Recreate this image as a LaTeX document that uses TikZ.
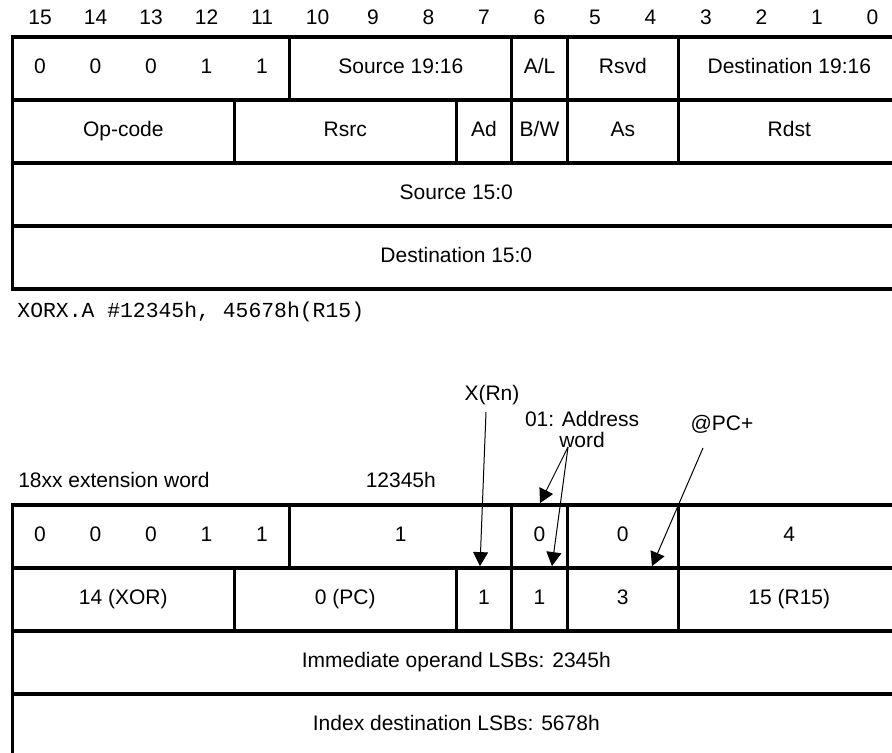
\documentclass[tikz,border=0pt]{standalone}
\usepackage{fontspec}
\setmainfont{Liberation Sans}
\setmonofont{Liberation Mono}
\usetikzlibrary{arrows.meta}

\begin{document}
\begin{tikzpicture}[x=27.75pt, y=31.5pt, >={Triangle[length=7pt, width=7.5pt]},
    font=\fontsize{10.5}{12.6}\selectfont,
    every node/.style={text height=7.6pt, text depth=2.2pt},
    rahmen/.style={line width=1.6pt},
    pfeil/.style={->, line width=0.5pt}]

    \useasboundingbox (-0.2216,0.5873) rectangle (15.8505,-11.365);
    \clip (-0.2216,0.5873) rectangle (15.8505,-11.365);

    % --- OBERES BILD: Format des Erweiterungsworts ---
    \begin{scope}[shift={(0,0)}]
        % Bitnummern
        \foreach \b in {0,...,15}
            \node (bit\b) at ({15.5-\b},0.286) {\b};

        % Rahmen und Zeilen
        \draw[rahmen] (0,0) rectangle (16,-4);
        \draw[rahmen] (0,-1) -- (16,-1) (0,-2) -- (16,-2) (0,-3) -- (16,-3);
        \draw[rahmen] (5,0) -- (5,-1) (9,0) -- (9,-1) (10,0) -- (10,-1) (12,0) -- (12,-1);
        \draw[rahmen] (4,-1) -- (4,-2) (8,-1) -- (8,-2) (9,-1) -- (9,-2) (10,-1) -- (10,-2) (12,-1) -- (12,-2);

        % Erweiterungswort
        \foreach \u/\w [count=\i] in {0.5/0, 1.5/0, 2.5/0, 3.5/1, 4.5/1}
            \node (ext\i) at (\u,-0.5) {\w};
        \node (src) at (7,-0.5) {Source 19:16};
        \node (al) at (9.5,-0.5) {A/L};
        \node (rsvd) at (11,-0.5) {Rsvd};
        \node (dst) at (14,-0.5) {Destination 19:16};

        % Befehlswort
        \node (opc) at (2,-1.5) {Op-code};
        \node (rsrc) at (6,-1.5) {Rsrc};
        \node (ad) at (8.5,-1.5) {Ad};
        \node (bw) at (9.5,-1.5) {B/W};
        \node (as) at (11,-1.5) {As};
        \node (rdst) at (14,-1.5) {Rdst};

        % Operandenwoerter
        \node (srclo) at (8,-2.5) {Source 15:0};
        \node (dstlo) at (8,-3.5) {Destination 15:0};

        \node[anchor=west, inner sep=0pt, font=\fontsize{10.7}{12.6}\ttfamily] (befehl) at (0.085,-4.365) {XORX.A \#12345h, 45678h(R15)};
    \end{scope}

    % --- UNTERES BILD: Beispiel mit Werten ---
    \begin{scope}[shift={(0,-7.4286)}]
        \node[anchor=west, inner sep=0pt] (wort) at (0.1,0.365) {18xx extension word};
        \node (wert) at (7,0.365) {12345h};

        % Rahmen und Zeilen
        \draw[rahmen] (0,0) rectangle (16,-4);
        \draw[rahmen] (0,-1) -- (16,-1) (0,-2) -- (16,-2) (0,-3) -- (16,-3);
        \draw[rahmen] (5,0) -- (5,-1) (9,0) -- (9,-1) (10,0) -- (10,-1) (12,0) -- (12,-1);
        \draw[rahmen] (4,-1) -- (4,-2) (8,-1) -- (8,-2) (9,-1) -- (9,-2) (10,-1) -- (10,-2) (12,-1) -- (12,-2);

        % Erweiterungswort
        \foreach \u/\w [count=\i] in {0.5/0, 1.5/0, 2.5/0, 3.5/1, 4.5/1}
            \node (xext\i) at (\u,-0.5) {\w};
        \node (xsrc) at (7,-0.5) {1};
        \node (xal) at (9.5,-0.5) {0};
        \node (xrsvd) at (11,-0.5) {0};
        \node (xdst) at (14,-0.5) {4};

        % Befehlswort
        \node (xopc) at (2,-1.5) {14 (XOR)};
        \node (xrsrc) at (6,-1.5) {0 (PC)};
        \node (xad) at (8.5,-1.5) {1};
        \node (xbw) at (9.5,-1.5) {1};
        \node (xas) at (11,-1.5) {3};
        \node (xrdst) at (14,-1.5) {15 (R15)};

        % Operandenwoerter
        \node (imm) at (8,-2.5) {Immediate operand LSBs: 2345h};
        \node (idx) at (8,-3.5) {Index destination LSBs: 5678h};

        % Beschriftungen mit Pfeilen
        \node (xrn) at (8.643,1.746) {X(Rn)};
        \node[align=center, text height={}, text depth={}] (addr) at (10.265,1.2) {01: Address\\[-2pt]word};
        \node (pcinc) at (12.787,1.27) {@PC+};

        \coordinate (xrnfuss) at (8.535,1.476);
        \coordinate (xrnziel) at (8.427,-0.97);
        \coordinate (addrfuss) at (10.013,0.92);
        \coordinate (addrziel1) at (9.508,0.03);
        \coordinate (addrziel2) at (9.724,-0.97);
        \coordinate (pcfuss) at (12.445,0.905);
        \coordinate (pcziel) at (11.526,-0.97);

        \draw[pfeil] (xrnfuss) -- (xrnziel);
        \draw[pfeil] (addrfuss) -- (addrziel1);
        \draw[pfeil] (addrfuss) -- (addrziel2);
        \draw[pfeil] (pcfuss) -- (pcziel);
    \end{scope}

\end{tikzpicture}
\end{document}
